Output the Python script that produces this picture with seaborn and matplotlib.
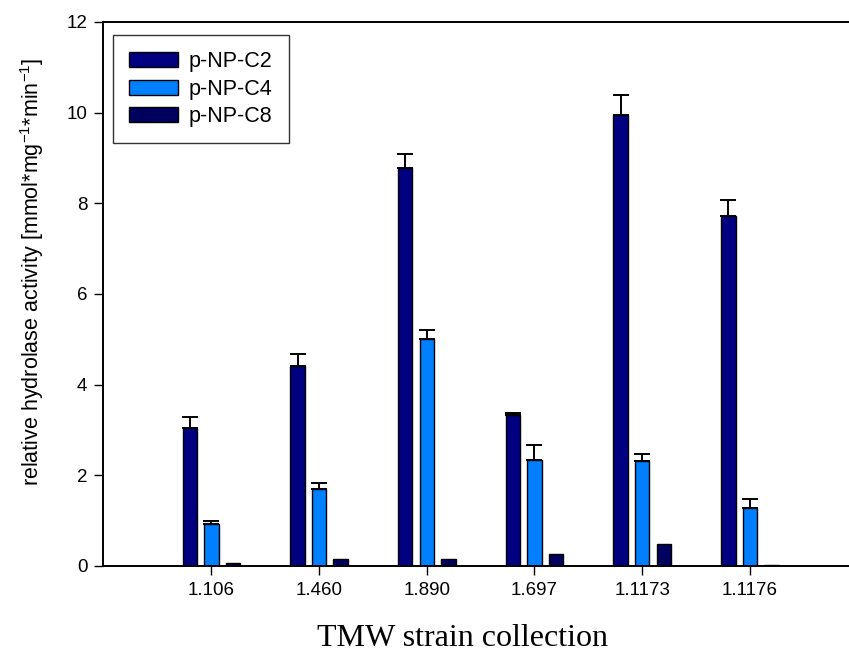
import matplotlib
matplotlib.use("Agg")
import matplotlib.pyplot as plt
import seaborn as sns
import pandas as pd
import numpy as np

strains = ["1.106", "1.460", "1.890", "1.697", "1.1173", "1.1176"]
substrates = ["p-NP-C2", "p-NP-C4", "p-NP-C8"]
c2_vals = [3.05, 4.42, 8.79, 3.33, 9.94, 7.73]
c2_err = [0.24, 0.25, 0.30, 0.05, 0.45, 0.34]
c4_vals = [0.92, 1.70, 5.00, 2.33, 2.32, 1.27]
c4_err = [0.08, 0.12, 0.21, 0.35, 0.15, 0.21]
c8_vals = [0.06, 0.15, 0.16, 0.26, 0.49, 0.03]
c8_err = [0.0, 0.0, 0.0, 0.0, 0.0, 0.0]
colors = ["#000080", "#0080FF", "#00005E"]

rows = []
for sub, vals, errs in zip(substrates, [c2_vals, c4_vals, c8_vals], [c2_err, c4_err, c8_err]):
    for s, v, e in zip(strains, vals, errs):
        rows.append({"strain": s, "substrate": sub, "value": v, "err": e})
df = pd.DataFrame(rows)

sns.set_style("ticks")
plt.rcParams["font.family"] = ["Liberation Sans", "DejaVu Sans"]
plt.rcParams.update({"text.color": "black", "axes.labelcolor": "black",
                     "xtick.color": "black", "ytick.color": "black"})

fig = plt.figure(figsize=(8.49, 6.55), dpi=100)
ax = fig.add_axes([103.3 / 849, 1 - 566 / 655, 1 - 103.3 / 849, (566 - 22) / 655])

sns.barplot(data=df, x="strain", y="value", hue="substrate", order=strains,
            hue_order=substrates, palette=colors, width=0.6, gap=0.33,
            edgecolor="black", linewidth=1.0, errorbar=None, ax=ax, saturation=1)

# upper-only error bars
offsets = {"p-NP-C2": -0.2, "p-NP-C4": 0.0, "p-NP-C8": 0.2}
for _, r in df.iterrows():
    if r["err"] > 0:
        x = strains.index(r["strain"]) + offsets[r["substrate"]]
        ax.errorbar(x, r["value"], yerr=[[0], [r["err"]]], fmt="none",
                    ecolor="black", elinewidth=1.4, capsize=5.8, capthick=1.4, zorder=1)

ax.set_xlim(-1.003, 5.92)
ax.set_ylim(0, 12)
ax.set_yticks([0, 2, 4, 6, 8, 10, 12])
ax.tick_params(axis="both", direction="out", length=6.5, width=1.0, labelsize=13.5, pad=5)
for sp in ["left", "bottom", "top"]:
    ax.spines[sp].set_linewidth(1.4)
    ax.spines[sp].set_color("black")
ax.spines["right"].set_visible(False)

ax.set_xlabel("TMW strain collection", fontsize=23,
              family=["Liberation Serif", "DejaVu Serif"])
ax.xaxis.set_label_coords(0.482, -0.134, transform=ax.transAxes)
ax.xaxis.label.set_va("center")
ax.set_ylabel(r"relative hydrolase activity [mmol*mg$^{\mathregular{-1}}$*min$^{\mathregular{-1}}$]",
              fontsize=15.5)
ax.yaxis.set_label_coords(-0.095, 0.54, transform=ax.transAxes)
ax.yaxis.label.set_va("center")

leg = ax.legend(loc="upper left", bbox_to_anchor=(113 / 849, 1 - 35 / 655),
                bbox_transform=fig.transFigure, fontsize=15.5, frameon=True,
                fancybox=False, edgecolor="black", handlelength=2.28, handleheight=0.7,
                borderpad=0.75, labelspacing=0.3, handletextpad=0.5, borderaxespad=0)
leg.get_frame().set_linewidth(1.0)

fig.savefig("out.png", dpi=100)
